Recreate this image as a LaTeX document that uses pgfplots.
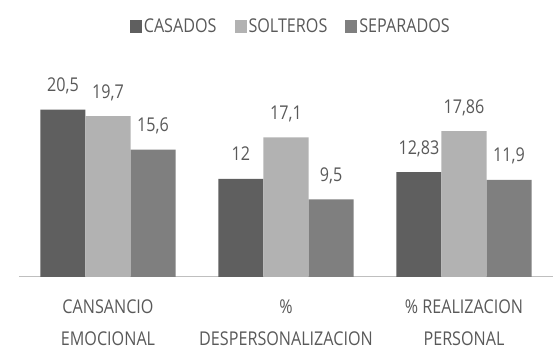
\documentclass[border=0pt]{standalone}
\usepackage{pgfplots}
\pgfplotsset{compat=1.18}
\usepackage{fontspec}
\setmainfont{Open Sans}[FakeStretch=0.85]
\definecolor{txt}{HTML}{595959}
\definecolor{cas}{HTML}{5F5F5F}
\definecolor{sol}{HTML}{B2B2B2}
\definecolor{sep}{HTML}{7F7F7F}
\definecolor{axl}{HTML}{BFBFBF}
\newcommand{\lblfont}{\fontsize{19}{32}\selectfont}
\begin{document}
\begin{tikzpicture}
\begin{axis}[
  at={(19pt,76pt)}, anchor=south west,
  scale only axis, width=534pt, height=196pt,
  xmin=-0.5, xmax=2.5, ymin=0, ymax=24,
  axis x line=bottom, axis y line=none,
  x axis line style={draw=axl, line width=1pt, -},
  xtick={0,1,2},
  xticklabels={CANSANCIO\\EMOCIONAL, \%\\DESPERSONALIZACION, \% REALIZACION\\PERSONAL},
  major tick length=0pt,
  xticklabel style={align=center, font=\lblfont, text=txt, anchor=north, yshift=-19pt},
  ybar, bar width=0.253,
  clip=false,
  point meta=explicit symbolic,
  nodes near coords,
  nodes near coords style={font=\lblfont, text=txt, anchor=base, inner sep=0pt, yshift=18pt},
  legend style={at={(0.509,1.28)}, anchor=center, legend columns=3, draw=none, fill=none,
    font=\lblfont, text=txt, /tikz/every even column/.append style={column sep=16pt}},
  legend image code/.code={\fill[#1] (0pt,-6.5pt) rectangle (12pt,6.5pt);},
]
\addplot[fill=cas, draw=none, bar shift=-0.253] table[meta=l] {
x y l
0 20.5 20,5
1 12 12
2 12.83 12,83
};
\addplot[fill=sol, draw=none, bar shift=0] table[meta=l] {
x y l
0 19.7 19,7
1 17.1 17,1
2 17.86 17,86
};
\addplot[fill=sep, draw=none, bar shift=0.253] table[meta=l] {
x y l
0 15.6 15,6
1 9.5 9,5
2 11.9 11,9
};
\legend{CASADOS, SOLTEROS, SEPARADOS}
\end{axis}
\pgfresetboundingbox
\useasboundingbox (0,0) rectangle (560pt,353pt);
\end{tikzpicture}
\end{document}
